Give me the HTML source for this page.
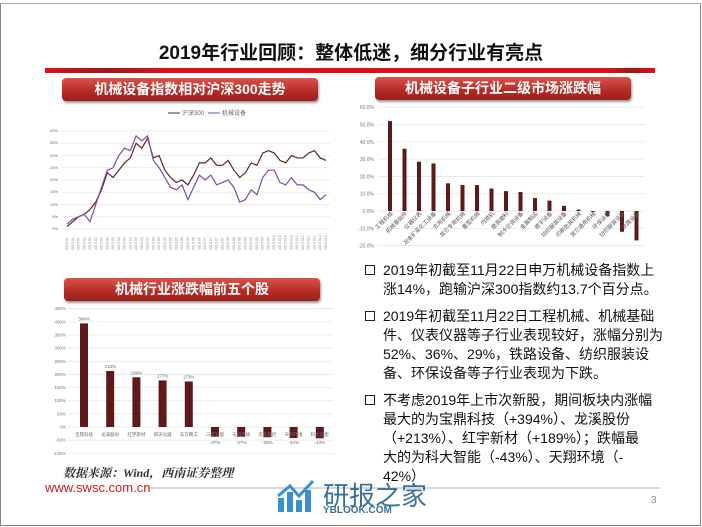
<!DOCTYPE html>
<html><head><meta charset="utf-8"><style>
body{margin:0;width:702px;height:527px;overflow:hidden;background:#fff;font-family:"Liberation Sans","Noto Sans CJK SC",sans-serif;}
.frame{position:absolute;left:0;top:3px;width:699px;height:521px;border:1px solid #888;border-top:1px solid #aaa;}
.t{position:absolute;white-space:nowrap}
.ban{position:absolute;height:23px;border-radius:4px;background:linear-gradient(#d9534a,#b52a25 60%,#9b1f1b);color:#fff;font-weight:bold;font-size:14px;text-align:center;line-height:23px;box-shadow:1px 2px 2px #999;}
.bul{position:absolute;left:365px;width:300px;font-size:14px;line-height:19px;color:#111;}
.bul span.b{position:absolute;left:0;top:4px;width:8px;height:8px;border:1.5px solid #222;}
.bul div{margin-left:18px;white-space:nowrap}
</style></head><body>
<div class="frame"></div>
<div class="t" style="left:0;width:702px;text-align:center;top:38px;font-size:19px;font-weight:bold;color:#111">2019年行业回顾：整体低迷，细分行业有亮点</div>
<div style="position:absolute;left:45px;top:68px;width:610px;height:5px;background:linear-gradient(90deg,#e0101a 0%,#9a1a14 10%,#e0101a 20%,#e0101a 92%,#9a1a14 96%,#e0101a 100%)"></div>
<div class="ban" style="left:62px;top:78px;width:256px">机械设备指数相对沪深300走势</div>
<div class="ban" style="left:375px;top:77px;width:256px">机械设备子行业二级市场涨跌幅</div>
<div class="ban" style="left:64px;top:278px;width:256px">机械行业涨跌幅前五个股</div>
<svg width="702" height="527" style="position:absolute;left:0;top:0" font-family="Liberation Sans,Noto Sans CJK SC,sans-serif">
<g stroke="#e4e4e4" stroke-width="0.7">
<line x1="62" x2="330" y1="131" y2="131"/><line x1="62" x2="330" y1="143.25" y2="143.25"/><line x1="62" x2="330" y1="155.5" y2="155.5"/><line x1="62" x2="330" y1="167.75" y2="167.75"/><line x1="62" x2="330" y1="180" y2="180"/><line x1="62" x2="330" y1="192.25" y2="192.25"/><line x1="62" x2="330" y1="204.5" y2="204.5"/><line x1="62" x2="330" y1="216.75" y2="216.75"/><line x1="62" x2="330" y1="229" y2="229"/>
</g>
<g font-size="4" fill="#666" text-anchor="end">
<text x="58" y="132">40%</text><text x="58" y="144">35%</text><text x="58" y="157">30%</text><text x="58" y="169">25%</text><text x="58" y="181">20%</text><text x="58" y="193">15%</text><text x="58" y="206">10%</text><text x="58" y="218">5%</text><text x="58" y="230">0%</text>
</g>
<g font-size="6" fill="#666"><line x1="168" x2="180" y1="113" y2="113" stroke="#5a2630"/><text x="182" y="115">沪深300</text><line x1="208" x2="220" y1="113" y2="113" stroke="#7b4fa0"/><text x="222" y="115">机械设备</text></g>
<g id="xl" font-size="3.5" fill="#888"></g>
<polyline id="pb" fill="none" stroke="#5a2630" stroke-width="1.2"/>
<polyline id="pp" fill="none" stroke="#7b4fa0" stroke-width="1.2"/>
<g stroke="#e4e4e4" stroke-width="0.7" id="rg"></g>
<g font-size="5" fill="#777" text-anchor="end" id="ry"></g>
<g fill="#5e1a1a" id="rb"></g>
<g font-size="5.5" fill="#555" id="rl"></g>
<g stroke="#e4e4e4" stroke-width="0.7" id="bg"></g>
<g font-size="4.5" fill="#777" text-anchor="end" id="by"></g>
<g fill="#5e1a1a" id="bb"></g>
<g font-size="4.5" fill="#666" text-anchor="middle" id="bl"></g>
<line x1="150" x2="660" y1="488" y2="488" stroke="#999" stroke-width="0.8"/>
</svg>
<div class="t" style="left:63px;top:464px;font-size:12px;font-style:italic;font-weight:bold;color:#333;font-family:'Liberation Serif','Noto Serif CJK SC',serif">数据来源：Wind，西南证券整理</div>
<div class="t" style="left:45px;top:480px;font-size:13px;color:#d01818">www.swsc.com.cn</div>
<div class="t" style="left:651px;top:495px;font-size:10px;color:#888">3</div>
<div class="t" style="left:323px;top:476px;font-size:26px;color:#1a5a8a;opacity:.85">研报之家</div>
<div class="t" style="left:323px;top:505px;font-size:10px;color:#1a5a8a;font-weight:bold;opacity:.85">YBLOOK.COM</div>
<svg style="position:absolute;left:276px;top:478px" width="42" height="36"><g fill="#3a8fd0"><rect x="2" y="20" width="6" height="14"/><rect x="11" y="14" width="6" height="20"/><rect x="20" y="22" width="6" height="12"/><rect x="29" y="12" width="6" height="22"/></g><polyline points="2,18 14,8 23,18 37,3" fill="none" stroke="#3a8fd0" stroke-width="3"/></svg>
<div class="bul" style="top:261px"><span class="b"></span><div>2019年初截至11月22日申万机械设备指数上<br>涨14%，跑输沪深300指数约13.7个百分点。</div></div>
<div class="bul" style="top:307px"><span class="b"></span><div>2019年初截至11月22日工程机械、机械基础<br>件、仪表仪器等子行业表现较好，涨幅分别为<br>52%、36%、29%，铁路设备、纺织服装设<br>备、环保设备等子行业表现为下跌。</div></div>
<div class="bul" style="top:391px"><span class="b"></span><div>不考虑2019年上市次新股，期间板块内涨幅<br>最大的为宝鼎科技（+394%）、龙溪股份<br>（+213%）、红宇新材（+189%）；跌幅最<br>大的为科大智能（-43%）、天翔环境（-<br>42%）</div></div>
<script>
const NS="http://www.w3.org/2000/svg";
function el(p,tag,a,txt){const e=document.createElementNS(NS,tag);for(const k in a)e.setAttribute(k,a[k]);if(txt)e.textContent=txt;document.getElementById(p).appendChild(e);}
const B=[1,3,5,6,8,11,16,23,21,24,27,29,35,33,37,29,30,24,21,19,20,18,22,27,27,29,26,26,28,24,21,23,27,26,31,32,31,28,27,30,29,29,31,32,29,28];
const P=[2,4,5,6,3,10,17,24,25,30,33,32,38,36,38,28,25,21,17,16,18,12,17,22,20,22,18,19,20,17,11,12,16,14,21,24,24,19,18,21,18,18,16,15,12,14];
const n=B.length,x0=67,x1=326;
const X=i=>x0+(x1-x0)*i/(n-1),Y=v=>229-v*2.45;
document.getElementById('pb').setAttribute('points',B.map((v,i)=>X(i)+','+Y(v)).join(' '));
document.getElementById('pp').setAttribute('points',P.map((v,i)=>X(i)+','+Y(v)).join(' '));
for(let i=0;i<n;i+=1){el('xl','text',{transform:`translate(${X(i)+1},250) rotate(-90)`},'2019-0'+(1+Math.floor(i/4)));}
for(let v=60;v>=-20;v-=10){const y=211-v*1.73;el('rg','line',{x1:378,x2:645,y1:y,y2:y});el('ry','text',{x:374,y:y+2},v.toFixed(1)+'%');}
const R=[52,36,28.5,27.5,16,15,15,13,11.5,11,7.5,6,3,0.8,-0.5,-3,-12,-17];
const RN=['工程机械','机械基础件','仪器仪表','冶金矿采化工设备','农用机械','其它专用机械','重型机械','内燃机','磨具磨料','制冷空调设备','金属制品','楼宇设备','纺织服装设备','印刷包装机械','其它通用机械','环保设备','纺织服装设备','铁路设备'];
R.forEach((v,i)=>{const x=390+i*14.5;const y=211-Math.max(v,0)*1.73;el('rb','rect',{x:x-2,y:y,width:4,height:Math.max(Math.abs(v)*1.73,0.5)});el('rl','text',{transform:`translate(${x+3},214) rotate(-45)`,'text-anchor':'end'},RN[i]);});
for(let v=450;v>=-100;v-=50){const y=427-v*0.263;el('bg','line',{x1:68,x2:333,y1:y,y2:y});el('by','text',{x:66,y:y+1.5},v+'%');}
const BV=[394,213,189,177,173,-37,-37,-39,-42,-43];
const BN=['宝鼎科技','龙溪股份','红宇新材','新天仪器','东方精工','三丰智能','天翔环境','华东数控','天翔环境','科大智能'];
BV.forEach((v,i)=>{const x=84+i*26.2;const y=427-Math.max(v,0)*0.263;el('bb','rect',{x:x-4,y:y,width:8,height:Math.abs(v)*0.263});el('bl','text',{x:x,y:v>0?y-3:444},v+'%');el('bl','text',{x:x,y:436},BN[i]);});
</script>
</body></html>
